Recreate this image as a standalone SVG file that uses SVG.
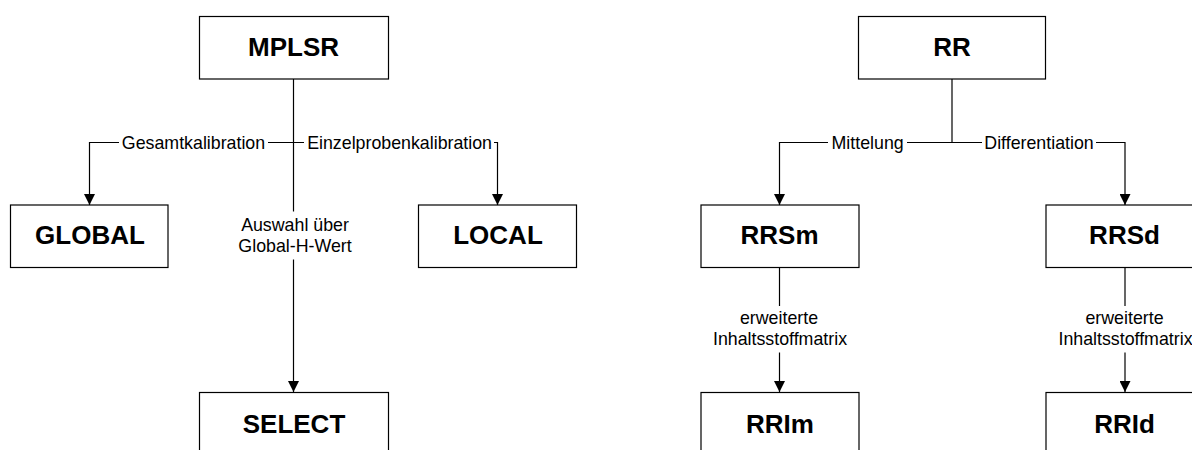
<svg xmlns="http://www.w3.org/2000/svg" width="1192" height="450" viewBox="0 0 1192 450">
<defs>
<style>
.box{fill:#fff;stroke:#000;stroke-width:1.2}
.t{font-family:"Liberation Sans",Arial,sans-serif;font-weight:bold;font-size:26px;text-anchor:middle;fill:#000}
.l{font-family:"Liberation Sans",Arial,sans-serif;font-size:17.8px;text-anchor:middle;fill:#000}
.c{fill:none;stroke:#000;stroke-width:1.2}
.bg{fill:#fff}
</style>
<marker id="ah" markerUnits="userSpaceOnUse" markerWidth="11" markerHeight="11" refX="11" refY="5.5" orient="auto" viewBox="0 0 11 11">
<path d="M0,0 L11,5.5 L0,11 z" fill="#000"/>
</marker>
</defs>
<rect width="1192" height="450" fill="#fff"/>
<g id="connectors">
<path class="c" d="M293.5,79 V211.5"/>
<path class="c" d="M293.5,259.5 V392" marker-end="url(#ah)"/>
<path class="c" d="M293.5,142.5 H89.5 V205" marker-end="url(#ah)"/>
<path class="c" d="M293.5,142.5 H497.5 V205" marker-end="url(#ah)"/>
<path class="c" d="M952,79 V142.5"/>
<path class="c" d="M952,142.5 H779.5 V205" marker-end="url(#ah)"/>
<path class="c" d="M952,142.5 H1125 V205" marker-end="url(#ah)"/>
<path class="c" d="M779.5,267 V306"/>
<path class="c" d="M779.5,352.5 V392" marker-end="url(#ah)"/>
<path class="c" d="M1125,267 V306"/>
<path class="c" d="M1125,352.5 V392" marker-end="url(#ah)"/>
<rect class="bg" x="119" y="132" width="149" height="22"/>
<rect class="bg" x="304" y="132" width="190" height="22"/>
<rect class="bg" x="828" y="132" width="79" height="22"/>
<rect class="bg" x="982" y="132" width="114" height="22"/>
<text class="l" x="193.5" y="148.5">Gesamtkalibration</text>
<text class="l" x="399.6" y="148.5">Einzelprobenkalibration</text>
<text class="l" x="867.6" y="148.5">Mittelung</text>
<text class="l" x="1039" y="148.5">Differentiation</text>
<text class="l" x="295" y="231">Auswahl über</text>
<text class="l" x="295" y="251.7">Global-H-Wert</text>
<text class="l" x="779" y="324">erweiterte</text>
<text class="l" x="780" y="345.3">Inhaltsstoffmatrix</text>
<text class="l" x="1124.5" y="324">erweiterte</text>
<text class="l" x="1125.5" y="345.3">Inhaltsstoffmatrix</text>
</g>
<g id="MPLSR"><rect class="box" x="199.5" y="16.5" width="189" height="62.5"/><text class="t" x="293.5" y="56">MPLSR</text></g>
<g id="GLOBAL"><rect class="box" x="10.5" y="205" width="157.5" height="62.5"/><text class="t" x="90" y="244">GLOBAL</text></g>
<g id="LOCAL"><rect class="box" x="418.5" y="205" width="158" height="62.5"/><text class="t" x="498" y="244">LOCAL</text></g>
<g id="SELECT"><rect class="box" x="199.5" y="392.5" width="189" height="70"/><text class="t" x="294" y="432.7">SELECT</text></g>
<g id="RR"><rect class="box" x="858.5" y="16.5" width="187" height="62.5"/><text class="t" x="952" y="56">RR</text></g>
<g id="RRSm"><rect class="box" x="701" y="205" width="158" height="62.5"/><text class="t" x="779.5" y="244">RRSm</text></g>
<g id="RRSd"><rect class="box" x="1046" y="205" width="158" height="62.5"/><text class="t" x="1124.5" y="244">RRSd</text></g>
<g id="RRIm"><rect class="box" x="701" y="392.5" width="158" height="70"/><text class="t" x="780" y="432.7">RRIm</text></g>
<g id="RRId"><rect class="box" x="1046" y="392.5" width="158" height="70"/><text class="t" x="1124.5" y="432.7">RRId</text></g>
</svg>
